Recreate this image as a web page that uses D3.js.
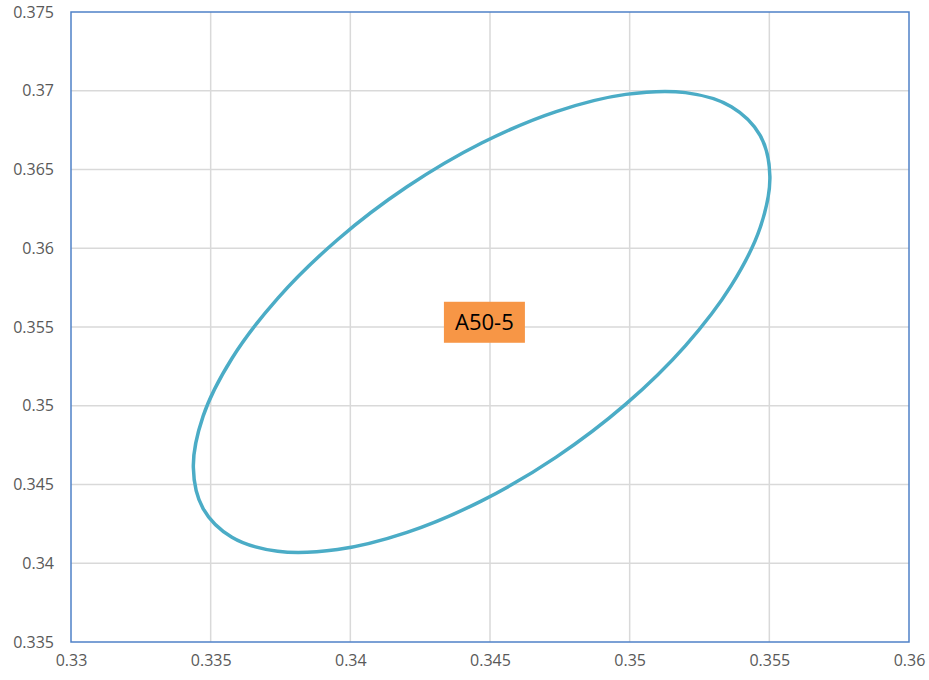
<!DOCTYPE html>
<html>
<head>
<meta charset="utf-8">
<script src="https://cdn.jsdelivr.net/npm/d3@7"></script>
<style>
  body { margin: 0; background: #fff; }
  text { font-family: "Open Sans", "Noto Sans", sans-serif; }
</style>
</head>
<body>
<div id="chart"></div>
<script>
// Points de l'ellipse (lissés)
const ellipseX = [0.35502, 0.35467, 0.35364, 0.35200, 0.34986, 0.34737, 0.34470, 0.34203,
  0.33954, 0.33740, 0.33576, 0.33473, 0.33438, 0.33473, 0.33576, 0.33740, 0.33954,
  0.34203, 0.34470, 0.34737, 0.34986, 0.35200, 0.35364, 0.35467];
const ellipseY = [0.36456, 0.36717, 0.36899, 0.36988, 0.36977, 0.36868, 0.36668, 0.36390,
  0.36054, 0.35682, 0.35300, 0.34934, 0.34608, 0.34347, 0.34165, 0.34076, 0.34087,
  0.34196, 0.34396, 0.34674, 0.35010, 0.35382, 0.35764, 0.36130];

const labelText = "A50-5";
const labelX = 0.3448;
const labelY = 0.3553;

const xTicks = [0.33, 0.335, 0.34, 0.345, 0.35, 0.355, 0.36];
const yTicks = [0.335, 0.34, 0.345, 0.35, 0.355, 0.36, 0.365, 0.37, 0.375];

const width = 929, height = 680;
const margin = { top: 12, right: 20, bottom: 38, left: 71 };

const svg = d3.select("#chart").append("svg")
    .attr("width", width).attr("height", height);

const x = d3.scaleLinear().domain([0.33, 0.36]).range([margin.left, width - margin.right]);
const y = d3.scaleLinear().domain([0.335, 0.375]).range([height - margin.bottom, margin.top]);

// grille
svg.append("g")
    .selectAll("line")
    .data(xTicks.slice(1, -1))
    .enter().append("line")
    .attr("x1", d => x(d)).attr("x2", d => x(d))
    .attr("y1", y(0.335)).attr("y2", y(0.375))
    .attr("stroke", "#d9d9d9").attr("stroke-width", 1.5);

svg.append("g")
    .selectAll("line")
    .data(yTicks.slice(1, -1))
    .enter().append("line")
    .attr("y1", d => y(d)).attr("y2", d => y(d))
    .attr("x1", x(0.33)).attr("x2", x(0.36))
    .attr("stroke", "#d9d9d9").attr("stroke-width", 1.5);

// cadre
svg.append("rect")
    .attr("x", x(0.33)).attr("y", y(0.375))
    .attr("width", x(0.36) - x(0.33)).attr("height", y(0.335) - y(0.375))
    .attr("fill", "none").attr("stroke", "#4f81c7").attr("stroke-width", 1.5);

// axes
const xAxis = svg.append("g")
    .attr("transform", `translate(0,${y(0.335)})`)
    .call(d3.axisBottom(x).tickValues(xTicks).tickSize(0).tickPadding(13).tickFormat(d3.format("")));
const yAxis = svg.append("g")
    .attr("transform", `translate(${x(0.33)},0)`)
    .call(d3.axisLeft(y).tickValues(yTicks).tickSize(0).tickPadding(17).tickFormat(d3.format("")));

[xAxis, yAxis].forEach(a => {
    a.select(".domain").remove();
    a.selectAll("text").style("font-size", "16px").attr("fill", "#595959");
});

// ellipse
const line = d3.line()
    .x((d, i) => x(ellipseX[i]))
    .y((d, i) => y(ellipseY[i]))
    .curve(d3.curveCatmullRomClosed);

svg.append("path")
    .attr("d", line(ellipseX))
    .attr("fill", "none")
    .attr("stroke", "#4bacc6")
    .attr("stroke-width", 3.5);

// étiquette
const lg = svg.append("g").attr("transform", `translate(${x(labelX)},${y(labelY)})`);
lg.append("rect")
    .attr("x", -40.5).attr("y", -20.5).attr("width", 81).attr("height", 41)
    .attr("fill", "#f79646");
lg.append("text")
    .attr("text-anchor", "middle").attr("dy", "0.36em")
    .style("font-size", "22px").attr("fill", "#000")
    .text(labelText);
</script>
</body>
</html>
